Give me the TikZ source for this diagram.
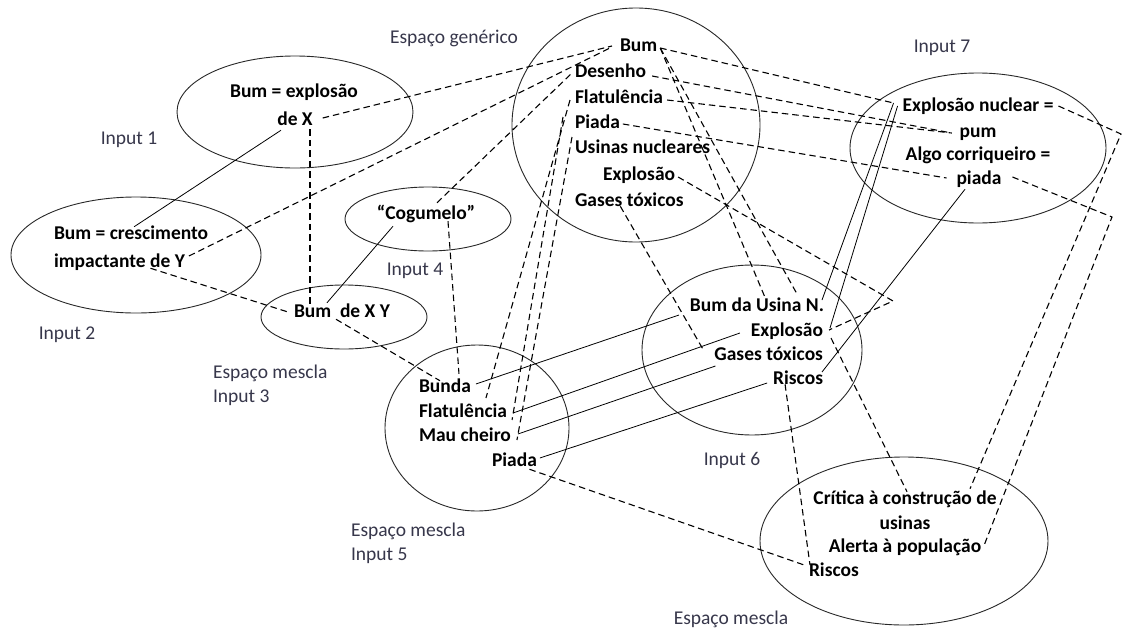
\documentclass[tikz,border=0pt]{standalone}
\usepackage{fontspec}
\setmainfont{Carlito}
\usetikzlibrary{shapes.geometric}
\definecolor{lbl}{RGB}{55,55,75}
\definecolor{rim}{RGB}{40,40,40}
\begin{document}
\begin{tikzpicture}[x=1pt,y=-1pt,
  every node/.style={inner sep=0pt, outer sep=0pt},
  item/.style={font=\fontsize{19.5}{22}\selectfont\bfseries, text height=0.85em, text depth=0em},
  lab/.style={font=\fontsize{19.5}{24}\selectfont, text=lbl, align=left},
  space/.style={draw=rim, ellipse, line width=0.9pt},
  dlink/.style={draw, line width=1.1pt, dash pattern=on 6.5pt off 4pt},
  slink/.style={draw, line width=0.8pt}
]
\fill[white] (0,0) rectangle (1122,627);
\useasboundingbox (0,0) rectangle (1122,627);

% mental spaces
\node[space, minimum width=236pt, minimum height=112pt] (eI1) at (295,112) {};
\node[space, minimum width=250pt, minimum height=116pt] (eI2) at (136,255) {};
\node[space, minimum width=166pt, minimum height=64pt] (eCog) at (428,219) {};
\node[space, minimum width=166pt, minimum height=64pt] (eXY) at (344,317) {};
\node[space, minimum width=184pt, minimum height=166pt] (eI5) at (477,428) {};
\node[space, minimum width=248pt, minimum height=234pt] (eGen) at (636,125) {};
\node[space, minimum width=256pt, minimum height=150pt] (eI7) at (978,148) {};
\node[space, minimum width=220pt, minimum height=170pt] (eI6) at (752,350) {};
\node[space, minimum width=288pt, minimum height=168pt] (eBot) at (904,541) {};

% space labels
\node[lab] (lGen) at (454,38) {Espaço genérico};
\node[lab] (lI7) at (942,48) {Input 7};
\node[lab] (lI1) at (129,140) {Input 1};
\node[lab] (lI2) at (67,335) {Input 2};
\node[lab] (lI4) at (415,271) {Input 4};
\node[lab, anchor=west] (lI3) at (213,385) {Espaço mescla\\Input 3};
\node[lab, anchor=west] (lI5) at (351,543) {Espaço mescla\\Input 5};
\node[lab] (lI6) at (732,460) {Input 6};
\node[lab] (lBot) at (731,619) {Espaço mescla};

% generic space
\node[item, anchor=west] (gBum) at (620,47) {Bum};
\node[item, anchor=west] (gDes) at (575,73) {Desenho};
\node[item, anchor=west] (gFlat) at (575,99) {Flatulência};
\node[item, anchor=west] (gPia) at (575,124) {Piada};
\node[item, anchor=west] (gUsi) at (575,149) {Usinas nucleares};
\node[item, anchor=west] (gExp) at (603,176) {Explosão};
\node[item, anchor=west] (gGas) at (575,202) {Gases tóxicos};

% inputs 1-4
\node[item] (i1a) at (294,93) {Bum = explosão};
\node[item] (i1b) at (295,121) {de X};
\node[item, anchor=west] (i2a) at (54,235) {Bum = crescimento};
\node[item, anchor=west] (i2b) at (54,263) {impactante de Y};
\node[item] (cog) at (426,215) {“Cogumelo”};
\node[item] (bumXY) at (342,313) {Bum\hspace{0.45em}de X Y};

% input 5
\node[item, anchor=west] (bunda) at (419,388) {Bunda};
\node[item, anchor=west] (flat5) at (419,413) {Flatulência};
\node[item, anchor=west] (mau) at (419,437) {Mau cheiro};
\node[item, anchor=west] (pia5) at (492,462) {Piada};

% input 6
\node[item, anchor=east] (bumU) at (824,307) {Bum da Usina N.};
\node[item, anchor=east] (exp6) at (823,332) {Explosão};
\node[item, anchor=east] (gas6) at (823,356) {Gases tóxicos};
\node[item, anchor=east] (ris6) at (823,380) {Riscos};

% input 7
\node[item] (e7a) at (978,107) {Explosão nuclear =};
\node[item] (pum) at (978,133) {pum};
\node[item] (alg) at (978,156) {Algo corriqueiro =};
\node[item] (pia7) at (979,180) {piada};

% final blend
\node[item] (crit) at (905,500) {Crítica à construção de};
\node[item] (usi) at (905,525) {usinas};
\node[item] (alerta) at (905,548) {Alerta à população};
\node[item, anchor=west] (risB) at (809,572) {Riscos};

% bends of the long connectors
\coordinate (kExp) at (893,301);
\coordinate (kNuc) at (1121,134);
\coordinate (kPia) at (1112,217);

% dashed projections
\draw[dlink] ([shift={(10,-3)}]i1b.east) -- ([shift={(-8,-1)}]gBum.west);
\draw[dlink] ([shift={(4,-7)}]i2b.east) -- ([shift={(-8,0)}]gBum.west);
\draw[dlink] ([shift={(11,-8)}]cog.north) -- ([shift={(-3,0)}]gDes.west);
\draw[dlink] ([shift={(15,4)}]i1b.south) -- ([shift={(-32,-5)}]bumXY.north);
\draw[dlink] ([shift={(31,1)}]i2b.south) -- ([shift={(-6,-1)}]bumXY.west);
\draw[dlink] ([shift={(-6,2)}]bumXY.south) -- ([shift={(-5,-3)}]bunda.north);
\draw[dlink] ([shift={(22,2)}]cog.south) -- ([shift={(14,-10)}]bunda.north);
\draw[dlink] ([shift={(-5,1)}]gFlat.west) -- ([shift={(15,10)}]bunda.east);
\draw[dlink] ([shift={(-12,-7)}]gPia.west) -- ([shift={(5,7)}]flat5.east);
\draw[dlink] ([shift={(-3,-12)}]gUsi.west) -- ([shift={(6,3)}]mau.east);
\draw[dlink] ([shift={(3,1)}]gBum.east) -- ([shift={(-9,-4)}]e7a.west);
\draw[dlink] ([shift={(3,1)}]gBum.east) -- ([shift={(9,-3)}]bumU.north);
\draw[dlink] ([shift={(3,1)}]gBum.east) -- ([shift={(41,-7)}]bumU.north);
\draw[dlink] ([shift={(6,3)}]gDes.east) -- ([shift={(-8,0)}]pum.west);
\draw[dlink] ([shift={(4,1)}]gFlat.east) -- ([shift={(-8,0)}]pum.west);
\draw[dlink] ([shift={(3,0)}]gPia.east) -- ([shift={(-10,-2)}]pia7.west);
\draw[dlink] ([shift={(3,1)}]gExp.east) -- (kExp) -- ([shift={(6,-2)}]exp6.east);
\draw[dlink] ([shift={(-9,0)}]gGas.south) -- ([shift={(-11,-6)}]gas6.west);
\draw[dlink] ([shift={(8,6)}]exp6.east) -- ([shift={(2,-4)}]crit.north);
\draw[dlink] ([shift={(-13,0)}]ris6.south) -- ([shift={(1,-7)}]risB.west);
\draw[dlink] ([shift={(15,3)}]pia5.south) -- ([shift={(-2,-6)}]risB.west);
\draw[dlink] ([shift={(5,-1)}]e7a.east) -- (kNuc) -- ([shift={(65,-7)}]crit.north);
\draw[dlink] ([shift={(11,-3)}]pia7.east) -- (kPia) -- ([shift={(3,-3)}]alerta.east);

% solid links
\draw[slink] ([shift={(-14,5)}]i1b.south) -- ([shift={(3,-4)}]i2a.north);
\draw[slink] ([shift={(-33,7)}]cog.south) -- ([shift={(-15,-6)}]bumXY.north);
\draw[slink] ([shift={(5,-4)}]bunda.east) -- ([shift={(-11,8)}]bumU.west);
\draw[slink] ([shift={(6,0)}]flat5.east) -- ([shift={(-11,1)}]exp6.west);
\draw[slink] ([shift={(7,-3)}]mau.east) -- ([shift={(1,10)}]gas6.west);
\draw[slink] ([shift={(3,-4)}]pia5.east) -- ([shift={(-6,3)}]ris6.west);
\draw[slink] ([shift={(-9,-4)}]e7a.west) -- ([shift={(-2,-7)}]bumU.east);
\draw[slink] ([shift={(-5,-1)}]e7a.west) -- ([shift={(7,-4)}]exp6.east);
\draw[slink] ([shift={(-14,5)}]pia7.south) -- ([shift={(-1,-8)}]ris6.east);
\end{tikzpicture}
\end{document}
